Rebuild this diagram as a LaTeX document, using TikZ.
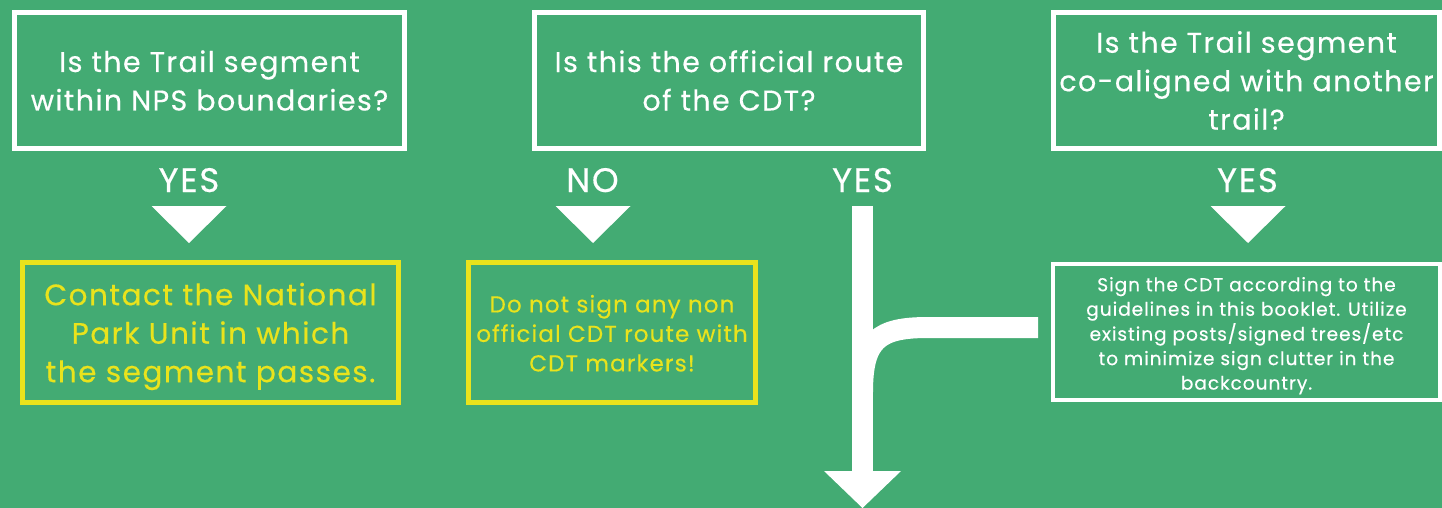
\documentclass[tikz,border=0pt]{standalone}
\usepackage{fontspec}
\setmainfont{Poppins}[LetterSpace=5, FakeBold=0.4]
\usetikzlibrary{positioning}
\definecolor{trailgreen}{RGB}{67,171,115}
\definecolor{markyellow}{RGB}{233,227,28}
\newcommand{\lowtext}[1]{\raisebox{-3.5pt}[\height][\depth]{\begin{tabular}{@{}c@{}}#1\end{tabular}}}

\begin{document}
\begin{tikzpicture}[x=1pt, y=-1pt,
questionnode/.style={rectangle, draw=white, line width=5pt, text=white, align=center, inner sep=0pt, minimum height=136pt, font=\fontsize{28.5}{38.5}\selectfont},
answernode/.style={rectangle, draw=markyellow, line width=5pt, text=markyellow, align=center, inner sep=0pt, minimum height=140pt},
notenode/.style={rectangle, draw=white, line width=4pt, text=white, align=center, inner sep=0pt, minimum height=136pt, font=\fontsize{18.6}{24.5}\selectfont},
labelnode/.style={anchor=base, text=white, inner sep=0pt, font=\fontsize{34}{34}\selectfont},
flowline/.style={draw=white, line width=21pt},
]
\useasboundingbox (0,0) rectangle (1442,508);
\fill[trailgreen] (0,0) rectangle (1442,508);

%Nodes
\node[questionnode, minimum width=390pt] (Nps)      at (209.5,80.5) {Is the Trail segment\\within NPS boundaries?};
\node[questionnode, minimum width=389pt] (Official) at (729,80.5)   {Is this the official route\\of the CDT?};
\node[questionnode, minimum width=386pt] (Coalign)  at (1246.5,80.5) {Is the Trail segment\\co-aligned with another\\trail?};

\node[labelnode] (yesNps)      at (189,192)    {YES};
\node[labelnode] (noOfficial)  at (592.5,192)  {NO};
\node[labelnode] (yesOfficial) at (862.5,192)  {YES};
\node[labelnode] (yesCoalign)  at (1247.5,192) {YES};

\node[answernode, minimum width=376pt, font=\fontsize{29.5}{38.5}\selectfont] (Contact) at (210.5,332.5) {\lowtext{Contact the National\\Park Unit in which\\the segment passes.}};
\node[answernode, minimum width=287pt, font=\fontsize{23}{29.5}\selectfont] (Nosign)  at (612,332.5)   {\lowtext{Do not sign any non\\official CDT route with\\CDT markers!}};
\node[notenode, minimum width=387pt] (Guide) at (1246.5,332) {\lowtext{Sign the CDT according to the\\guidelines in this booklet. Utilize\\existing posts/signed trees/etc\\to minimize sign clutter in the\\backcountry.}};

\coordinate (shafttop) at (862.5,206);
\coordinate (shaftend) at (862.5,472);
\coordinate (branch)   at (1038,327.5);

%Lines
\foreach \x in {189,593,1248}
  \fill[white] (\x-37.5,206) -- (\x+37.5,206) -- (\x,243) -- cycle;
\draw[flowline] (shafttop) -- (shaftend);
\draw[flowline] (branch) -- (928,327.5) .. controls (878,327.5) and (862.5,340) .. (862.5,392);
\fill[white] (824,471) -- (901,471) -- (862.5,508) -- cycle;

\end{tikzpicture}
\end{document}
